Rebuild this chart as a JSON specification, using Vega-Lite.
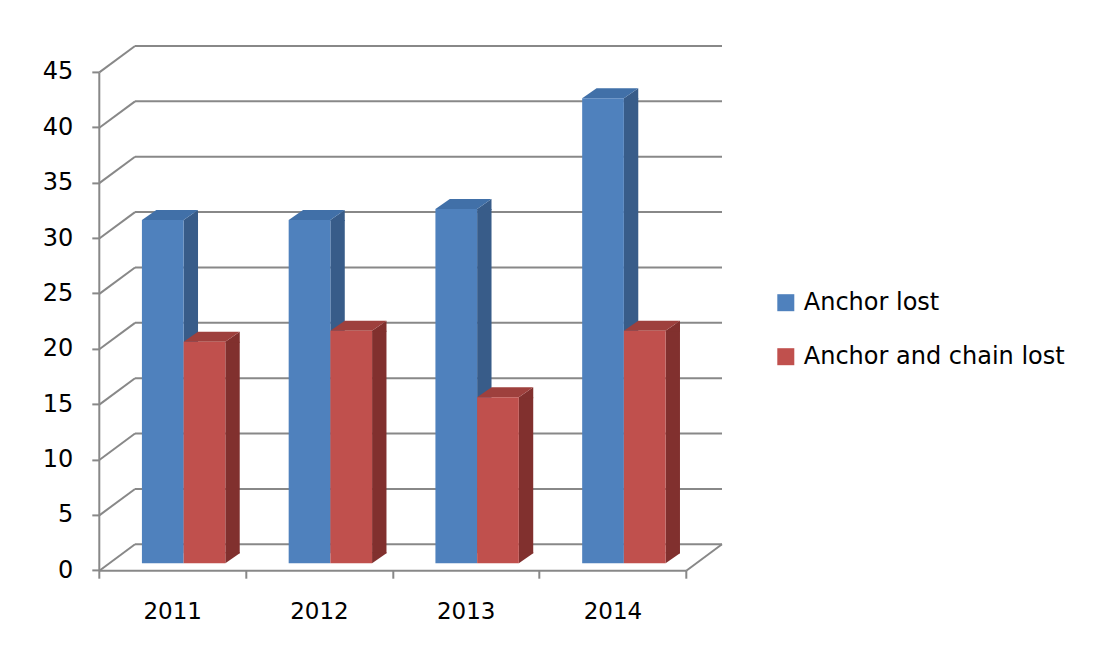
{
  "$schema": "https://vega.github.io/schema/vega-lite/v6.json",
  "width": 587,
  "height": 498.3,
  "autosize": {"type": "none"},
  "padding": {"left": 135, "top": 46, "right": 373, "bottom": 106.7},
  "background": "white",
  "config": {
    "view": {"stroke": null},
    "font": "DejaVu Sans"
  },
  "datasets": {
    "bars": [
      {"year": "2011", "series": "Anchor lost", "value": 31},
      {"year": "2012", "series": "Anchor lost", "value": 31},
      {"year": "2013", "series": "Anchor lost", "value": 32},
      {"year": "2014", "series": "Anchor lost", "value": 42},
      {"year": "2011", "series": "Anchor and chain lost", "value": 20},
      {"year": "2012", "series": "Anchor and chain lost", "value": 21},
      {"year": "2013", "series": "Anchor and chain lost", "value": 15},
      {"year": "2014", "series": "Anchor and chain lost", "value": 21}
    ],
    "grid": [
      {"v": 0}, {"v": 5}, {"v": 10}, {"v": 15}, {"v": 20},
      {"v": 25}, {"v": 30}, {"v": 35}, {"v": 40}, {"v": 45}
    ]
  },
  "layer": [
    {
      "data": {"name": "grid"},
      "mark": {"type": "rule", "color": "#888888", "strokeWidth": 2},
      "encoding": {
        "y": {"field": "v", "type": "quantitative", "axis": {"title": null}, "scale": {"domain": [0, 45], "nice": false, "zero": true}}
      }
    },
    {
      "data": {"name": "grid"},
      "mark": {"type": "point", "shape": "M-1,0.7395L1,-0.7395", "size": 1274.5, "filled": false, "stroke": "#888888", "strokeWidth": 2, "opacity": 1, "xOffset": -91.2, "yOffset": 13.2},
      "encoding": {
        "x": {"datum": "2011", "type": "nominal", "axis": {"title": null}},
        "y": {"field": "v", "type": "quantitative", "axis": {"title": null}}
      }
    },
    {
      "data": {"name": "grid"},
      "transform": [{"filter": "datum.v == 0"}],
      "mark": {"type": "point", "shape": "M-1,0.7395L1,-0.7395", "size": 1274.5, "filled": false, "stroke": "#888888", "strokeWidth": 2, "opacity": 1, "xOffset": 55.5, "yOffset": 13.2},
      "encoding": {
        "x": {"datum": "2014", "type": "nominal", "axis": {"title": null}},
        "y": {"field": "v", "type": "quantitative", "axis": {"title": null}}
      }
    },
    {
      "data": {"name": "bars"},
      "transform": [{"filter": "datum.series == 'Anchor lost'"}],
      "mark": {"type": "bar", "width": 14.4, "color": "#385C89", "xOffset": -17.55, "yOffset": 19, "y2Offset": 9},
      "encoding": {
        "x": {"field": "year", "type": "nominal", "axis": {"title": null}},
        "y": {"field": "value", "type": "quantitative", "axis": {"title": null}, "stack": null},
        "y2": {"datum": 0}
      }
    },
    {
      "data": {"name": "bars"},
      "transform": [{"filter": "datum.series == 'Anchor lost'"}],
      "mark": {"type": "point", "shape": "M-1,0.6944L1,-0.6944L1,0.8333L-1,0.8333Z", "size": 207.36, "filled": true, "color": "#385C89", "opacity": 1, "strokeWidth": 0, "xOffset": -17.55, "yOffset": 14},
      "encoding": {
        "x": {"field": "year", "type": "nominal", "axis": {"title": null}},
        "y": {"field": "value", "type": "quantitative", "axis": {"title": null}}
      }
    },
    {
      "data": {"name": "bars"},
      "transform": [{"filter": "datum.series == 'Anchor lost'"}],
      "mark": {"type": "point", "shape": "M-1,0.1783L0.4866,0.1783L1,-0.1783L-0.4866,-0.1783Z", "size": 3147.2, "filled": true, "color": "#4170A8", "opacity": 1, "strokeWidth": 0, "xOffset": -38.4, "yOffset": 14},
      "encoding": {
        "x": {"field": "year", "type": "nominal", "axis": {"title": null}},
        "y": {"field": "value", "type": "quantitative", "axis": {"title": null}}
      }
    },
    {
      "data": {"name": "bars"},
      "transform": [{"filter": "datum.series == 'Anchor lost'"}],
      "mark": {"type": "bar", "width": 41.7, "xOffset": -45.6, "yOffset": 19, "y2Offset": 19},
      "encoding": {
        "x": {
          "field": "year", "type": "nominal",
          "scale": {"type": "band", "domain": ["2011", "2012", "2013", "2014"], "paddingInner": 0, "paddingOuter": 0},
          "axis": {
            "orient": "bottom", "title": null, "translate": -35.7, "offset": 62.1,
            "domainColor": "#888888", "domainWidth": 2,
            "tickColor": "#888888", "tickWidth": 2, "tickSize": 8, "tickBand": "extent",
            "labelFont": "DejaVu Sans", "labelFontSize": 23, "labelColor": "#000000", "labelPadding": 22.5, "labelAngle": 0,
            "labelAlign": "center", "labelBaseline": "top",
            "grid": false
          }
        },
        "y": {
          "field": "value", "type": "quantitative", "stack": null,
          "axis": {
            "orient": "left", "title": null, "translate": 26.4, "offset": 62.1,
            "values": [0, 5, 10, 15, 20, 25, 30, 35, 40, 45],
            "domainColor": "#888888", "domainWidth": 2,
            "tickColor": "#888888", "tickWidth": 2, "tickSize": 7,
            "labelFont": "DejaVu Sans", "labelFontSize": 24, "labelColor": "#000000", "labelPadding": 19,
            "labelAlign": "right", "labelBaseline": "middle",
            "grid": false
          }
        },
        "y2": {"datum": 0},
        "color": {
          "field": "series", "type": "nominal",
          "scale": {"domain": ["Anchor lost", "Anchor and chain lost"], "range": ["#4F81BD", "#C0504D"]},
          "legend": {
            "title": null, "orient": "none", "legendX": 638.8, "legendY": 244.7,
            "symbolType": "square", "symbolSize": 289, "symbolStrokeWidth": 0, "symbolOpacity": 1,
            "labelFont": "DejaVu Sans", "labelFontSize": 24, "labelColor": "#000000", "labelLimit": 500,
            "labelOffset": 6, "rowPadding": 30, "padding": 0
          }
        }
      }
    },
    {
      "data": {"name": "bars"},
      "transform": [{"filter": "datum.series == 'Anchor and chain lost'"}],
      "mark": {"type": "bar", "width": 14.4, "color": "#81302E", "xOffset": 24.15, "yOffset": 19, "y2Offset": 9},
      "encoding": {
        "x": {"field": "year", "type": "nominal", "axis": {"title": null}},
        "y": {"field": "value", "type": "quantitative", "axis": {"title": null}, "stack": null},
        "y2": {"datum": 0}
      }
    },
    {
      "data": {"name": "bars"},
      "transform": [{"filter": "datum.series == 'Anchor and chain lost'"}],
      "mark": {"type": "point", "shape": "M-1,0.6944L1,-0.6944L1,0.8333L-1,0.8333Z", "size": 207.36, "filled": true, "color": "#81302E", "opacity": 1, "strokeWidth": 0, "xOffset": 24.15, "yOffset": 14},
      "encoding": {
        "x": {"field": "year", "type": "nominal", "axis": {"title": null}},
        "y": {"field": "value", "type": "quantitative", "axis": {"title": null}}
      }
    },
    {
      "data": {"name": "bars"},
      "transform": [{"filter": "datum.series == 'Anchor and chain lost'"}],
      "mark": {"type": "point", "shape": "M-1,-0.8333L1,-0.8333L1,-0.6944L-1,0.6944Z", "size": 207.36, "filled": true, "color": "#81302E", "opacity": 1, "strokeWidth": 0, "xOffset": 24.15, "yOffset": 14},
      "encoding": {
        "x": {"field": "year", "type": "nominal", "axis": {"title": null}},
        "y": {"datum": 0, "type": "quantitative", "axis": {"title": null}}
      }
    },
    {
      "data": {"name": "bars"},
      "transform": [{"filter": "datum.series == 'Anchor and chain lost'"}],
      "mark": {"type": "point", "shape": "M-1,0.1783L0.4866,0.1783L1,-0.1783L-0.4866,-0.1783Z", "size": 3147.2, "filled": true, "color": "#9E403D", "opacity": 1, "strokeWidth": 0, "xOffset": 3.3, "yOffset": 14},
      "encoding": {
        "x": {"field": "year", "type": "nominal", "axis": {"title": null}},
        "y": {"field": "value", "type": "quantitative", "axis": {"title": null}}
      }
    },
    {
      "data": {"name": "bars"},
      "transform": [{"filter": "datum.series == 'Anchor and chain lost'"}],
      "mark": {"type": "bar", "width": 41.7, "xOffset": -3.9, "yOffset": 19, "y2Offset": 19},
      "encoding": {
        "x": {"field": "year", "type": "nominal", "axis": {"title": null}},
        "y": {"field": "value", "type": "quantitative", "axis": {"title": null}, "stack": null},
        "y2": {"datum": 0},
        "color": {"field": "series", "type": "nominal"}
      }
    }
  ]
}
